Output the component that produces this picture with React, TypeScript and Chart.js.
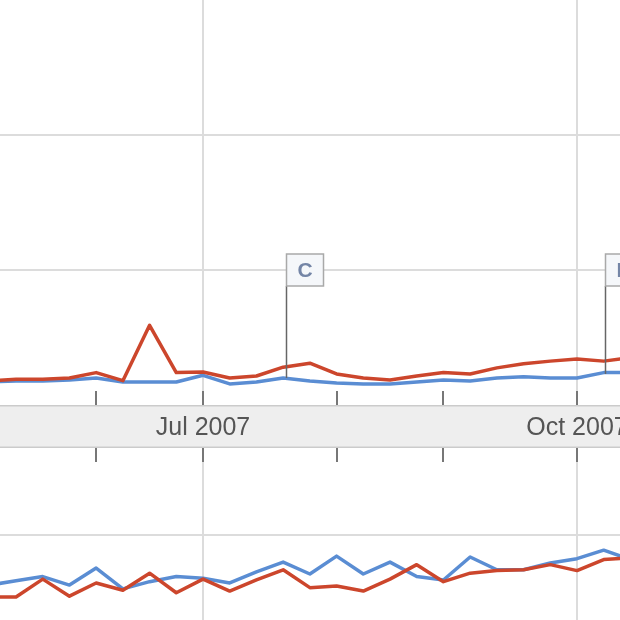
import React, { useEffect, useRef } from 'react';
import { Chart, registerables } from 'chart.js';
Chart.register(...registerables);

// week index relative to the "Jul 2007" point
const weeks = [-8, -7, -6, -5, -4, -3, -2, -1, 0, 1, 2, 3, 4, 5, 6, 7, 8, 9, 10, 11, 12, 13, 14, 15, 16];

// upper panel (search volume)
const topRed = [0.18, 0.19, 0.19, 0.2, 0.24, 0.18, 0.59, 0.24, 0.245, 0.2, 0.215, 0.28, 0.31, 0.23, 0.2, 0.185, 0.215, 0.24, 0.23, 0.275, 0.305, 0.325, 0.34, 0.325, 0.35];
const topBlue = [0.17, 0.178, 0.178, 0.186, 0.2, 0.17, 0.17, 0.17, 0.22, 0.156, 0.17, 0.2, 0.178, 0.163, 0.156, 0.156, 0.17, 0.186, 0.178, 0.2, 0.21, 0.2, 0.2, 0.24, 0.24];

// lower panel (news reference volume)
const bottomRed = [0.27, 0.27, 0.48, 0.28, 0.435, 0.35, 0.55, 0.32, 0.48, 0.34, 0.47, 0.59, 0.38, 0.4, 0.34, 0.48, 0.65, 0.45, 0.55, 0.58, 0.59, 0.65, 0.58, 0.71, 0.73];
const bottomBlue = [0.41, 0.46, 0.51, 0.41, 0.61, 0.365, 0.45, 0.51, 0.49, 0.435, 0.565, 0.68, 0.54, 0.75, 0.54, 0.68, 0.51, 0.47, 0.74, 0.59, 0.59, 0.67, 0.72, 0.82, 0.71];

// axis ticks
const tickPositions = [-4, 0, 5, 9, 14];
const tickLabels = ['', 'Jul 2007', '', '', 'Oct 2007'];
const gridPositions = [0, 14];

// news flags
const flagLabels = ['C', 'D'];
const flagX = [3.1, 15.05];
const flagY = [0.2, 0.23];

const X_MIN = -7.6;
const X_MAX = 15.61;
const RED = '#cc462c';
const BLUE = '#5a8dd3';
const GRID = '#dcdcdc';
const FONT = "'Liberation Sans', Arial, sans-serif";

function pts(vals: number[]) {
  return weeks.map((w, i) => ({ x: w, y: vals[i] }));
}

function baseX(showLabels: boolean, height: number) {
  return {
    type: 'linear' as const,
    min: X_MIN,
    max: X_MAX,
    position: 'bottom' as const,
    afterBuildTicks: (s: any) => {
      s.ticks = tickPositions.map((v) => ({ value: v }));
    },
    afterFit: (s: any) => {
      s.height = height;
      s.paddingLeft = 0;
      s.paddingRight = 0;
    },
    grid: {
      color: (c: any) => (c.tick && gridPositions.includes(c.tick.value) ? GRID : 'rgba(0,0,0,0)'),
      lineWidth: 2,
      drawTicks: false,
    },
    border: { display: false },
    ticks: {
      display: showLabels,
      autoSkip: false,
      maxRotation: 0,
      padding: 8,
      color: '#555',
      font: { family: FONT, size: 25 },
      callback: (_v: any, i: number) => tickLabels[i],
    },
  };
}

function baseY(max: number, gridVals: number[]) {
  return {
    min: 0,
    max,
    afterFit: (s: any) => {
      s.width = 0;
    },
    afterBuildTicks: (s: any) => {
      s.ticks = gridVals.map((v) => ({ value: v }));
    },
    ticks: { display: false },
    border: { display: false },
    grid: { color: GRID, lineWidth: 2, drawTicks: false },
  };
}

export default function App() {
  const topRef = useRef<HTMLCanvasElement>(null);
  const botRef = useRef<HTMLCanvasElement>(null);

  useEffect(() => {
    document.body.style.margin = '0';
    const common = {
      animation: false as const,
      responsive: false,
      maintainAspectRatio: false,
      layout: { padding: 0 },
      plugins: { legend: { display: false }, tooltip: { enabled: false } },
      elements: {
        point: { radius: 0 },
        line: { borderWidth: 3.5, tension: 0, borderJoinStyle: 'round' as const, borderCapStyle: 'round' as const },
      },
    };

    const topPlugin = {
      id: 'topDecor',
      beforeDraw(chart: any) {
        const { ctx, chartArea, width, height } = chart;
        ctx.save();
        ctx.fillStyle = '#eeeeee';
        ctx.fillRect(0, chartArea.bottom, width, height - chartArea.bottom);
        ctx.strokeStyle = '#cbcbcb';
        ctx.lineWidth = 1.5;
        ctx.beginPath();
        ctx.moveTo(0, chartArea.bottom + 0.75);
        ctx.lineTo(width, chartArea.bottom + 0.75);
        ctx.moveTo(0, height - 0.75);
        ctx.lineTo(width, height - 0.75);
        ctx.stroke();
        ctx.restore();
      },
      afterDraw(chart: any) {
        const { ctx, chartArea } = chart;
        const xs = chart.scales.x;
        const ys = chart.scales.y;
        ctx.save();
        ctx.strokeStyle = '#777';
        ctx.lineWidth = 2;
        tickPositions.forEach((v) => {
          const px = Math.round(xs.getPixelForValue(v));
          ctx.beginPath();
          ctx.moveTo(px, chartArea.bottom - 14);
          ctx.lineTo(px, chartArea.bottom);
          ctx.stroke();
        });
        // flags
        flagLabels.forEach((lab, i) => {
          const px = Math.round(xs.getPixelForValue(flagX[i])) + 0.5;
          const bottom = ys.getPixelForValue(flagY[i]);
          const mid = ys.getPixelForValue(1);
          const bw = 37;
          const bh = 32;
          const top = mid - bh / 2;
          ctx.strokeStyle = '#666';
          ctx.lineWidth = 1.5;
          ctx.beginPath();
          ctx.moveTo(px, top + bh);
          ctx.lineTo(px, bottom);
          ctx.stroke();
          ctx.fillStyle = '#f5f7fa';
          ctx.fillRect(px, top, bw, bh);
          ctx.strokeStyle = '#a9a9a9';
          ctx.strokeRect(px, top, bw, bh);
          ctx.fillStyle = '#7485a6';
          ctx.font = `bold 21px ${FONT}`;
          ctx.textAlign = 'center';
          ctx.textBaseline = 'middle';
          ctx.fillText(lab, px + bw / 2, mid + 1);
        });
        ctx.restore();
      },
    };

    const botPlugin = {
      id: 'botDecor',
      afterDraw(chart: any) {
        const { ctx, chartArea } = chart;
        const xs = chart.scales.x;
        ctx.save();
        ctx.strokeStyle = '#777';
        ctx.lineWidth = 2;
        tickPositions.forEach((v) => {
          const px = Math.round(xs.getPixelForValue(v));
          ctx.beginPath();
          ctx.moveTo(px, chartArea.top);
          ctx.lineTo(px, chartArea.top + 14);
          ctx.stroke();
        });
        ctx.restore();
      },
    };

    const top = new Chart(topRef.current!, {
      type: 'line',
      data: {
        datasets: [
          { label: 'red', data: pts(topRed), borderColor: RED },
          { label: 'blue', data: pts(topBlue), borderColor: BLUE },
        ],
      },
      options: {
        ...common,
        scales: { x: baseX(true, 43) as any, y: baseY(3, [1, 2]) as any },
      },
      plugins: [topPlugin],
    });

    const bot = new Chart(botRef.current!, {
      type: 'line',
      data: {
        datasets: [
          { label: 'red', data: pts(bottomRed), borderColor: RED },
          { label: 'blue', data: pts(bottomBlue), borderColor: BLUE },
        ],
      },
      options: {
        ...common,
        scales: { x: baseX(false, 0) as any, y: baseY(2.02, [1]) as any },
      },
      plugins: [botPlugin],
    });

    return () => {
      top.destroy();
      bot.destroy();
    };
  }, []);

  return (
    <div style={{ position: 'relative', width: 620, height: 620, background: '#fff', overflow: 'hidden' }}>
      <canvas ref={topRef} width={620} height={448} style={{ position: 'absolute', left: 0, top: 0 }} />
      <canvas ref={botRef} width={620} height={172} style={{ position: 'absolute', left: 0, top: 448 }} />
    </div>
  );
}
